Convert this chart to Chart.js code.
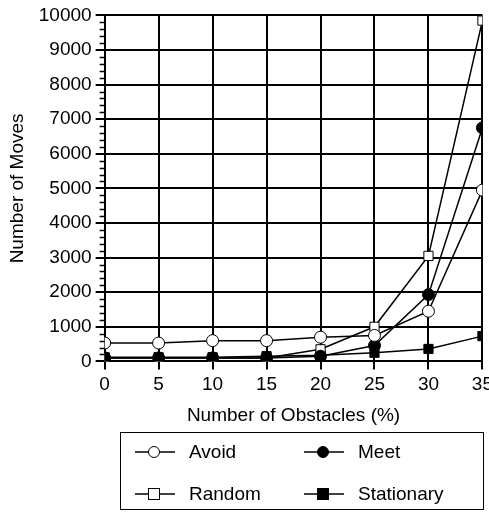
<!DOCTYPE html>
<html>
<head>
<meta charset="utf-8">
<script src="https://cdn.jsdelivr.net/npm/chart.js@4/dist/chart.umd.min.js"></script>
<style>
  html, body { margin: 0; padding: 0; background: #fff; }
  #wrap { position: relative; width: 489px; height: 514px; overflow: hidden; }
  #legend {
    position: absolute; left: 120px; top: 432px; width: 364px; height: 78px;
    border: 1.5px solid #000; box-sizing: border-box;
    font-family: "Liberation Sans", Arial, sans-serif; font-size: 19px; color: #000;
  }
  .item { position: absolute; display: flex; align-items: center; }
  .item svg { margin-right: 14px; }
</style>
</head>
<body>
<div id="wrap">
  <canvas id="chart" width="497" height="514"></canvas>
  <div id="legend"></div>
</div>
<script>
// obstacle percentages on the x axis
const obstacles = [0, 5, 10, 15, 20, 25, 30, 35];

// number of moves per strategy
const avoid      = [530, 530, 600, 600, 700, 750, 1450, 4950];
const meet       = [100, 100, 100, 100, 150, 460, 1930, 6750];
const random     = [100, 100, 100, 100, 350, 1000, 3050, 9850];
const stationary = [120, 120, 120, 150, 180, 250, 360, 730];

const xTicks = [0, 5, 10, 15, 20, 25, 30, 35];
const yTicks = [0, 1000, 2000, 3000, 4000, 5000, 6000, 7000, 8000, 9000, 10000];

const FONT = '"Liberation Sans", Arial, sans-serif';

const toPoints = vals => vals.map((v, i) => ({ x: obstacles[i], y: v }));

const series = [
  { label: 'Avoid',      data: avoid,      style: 'circle', fill: '#fff' },
  { label: 'Meet',       data: meet,       style: 'circle', fill: '#000' },
  { label: 'Random',     data: random,     style: 'rect',   fill: '#fff' },
  { label: 'Stationary', data: stationary, style: 'rect',   fill: '#000' }
];

// short minor ticks on the y axis every 200
const minorTicks = {
  id: 'minorTicks',
  afterDraw(chart) {
    const y = chart.scales.y, ctx = chart.ctx;
    const left = chart.chartArea.left;
    ctx.save();
    ctx.strokeStyle = '#000';
    ctx.lineWidth = 1.5;
    for (let v = 0; v <= 10000; v += 200) {
      if (v % 1000 === 0) continue;
      const py = Math.round(y.getPixelForValue(v)) + 0.5;
      ctx.beginPath();
      ctx.moveTo(left - 5, py);
      ctx.lineTo(left, py);
      ctx.stroke();
    }
    ctx.restore();
  }
};

const chart = new Chart(document.getElementById('chart'), {
  type: 'line',
  data: {
    datasets: series.map(s => ({
      label: s.label,
      data: toPoints(s.data),
      borderColor: '#000',
      borderWidth: 1.5,
      pointStyle: s.style,
      pointRadius: s.style === 'circle' ? 6 : 6.5,
      pointBackgroundColor: s.fill,
      pointBorderColor: '#000',
      pointBorderWidth: 1,
      tension: 0
    }))
  },
  options: {
    responsive: false,
    animation: false,
    layout: { padding: { top: 9, right: 0, left: 2, bottom: 83 } },
    plugins: { legend: { display: false }, tooltip: { enabled: false } },
    scales: {
      x: {
        type: 'linear', min: 0, max: 35,
        afterBuildTicks: s => { s.ticks = xTicks.map(v => ({ value: v })); },
        grid: { color: '#000', lineWidth: 2, tickLength: 8 },
        border: { color: '#000', width: 2 },
        ticks: { color: '#000', font: { family: FONT, size: 19 }, padding: 4, maxRotation: 0 },
        title: { display: true, text: 'Number of Obstacles (%)', color: '#000', font: { family: FONT, size: 19 }, padding: { top: 4 } }
      },
      y: {
        min: 0, max: 10000,
        afterBuildTicks: s => { s.ticks = yTicks.map(v => ({ value: v })); },
        grid: { color: '#000', lineWidth: 2, tickLength: 9 },
        border: { color: '#000', width: 2 },
        ticks: { color: '#000', font: { family: FONT, size: 19 }, padding: 4, callback: v => String(v) },
        title: { display: true, text: 'Number of Moves', color: '#000', font: { family: FONT, size: 19 }, padding: { bottom: 6 } }
      }
    }
  },
  plugins: [minorTicks]
});

// boxed legend in two columns, icons drawn like the plot markers
const legend = document.getElementById('legend');
const spots = [[14, 8], [183, 8], [14, 50], [183, 50]];
series.forEach((s, i) => {
  const el = document.createElement('div');
  el.className = 'item';
  el.style.left = spots[i][0] + 'px';
  el.style.top = spots[i][1] + 'px';
  const mark = s.style === 'circle'
    ? `<circle cx="19" cy="10" r="5.5" fill="${s.fill}" stroke="#000" stroke-width="1"/>`
    : `<rect x="13.5" y="4.5" width="11" height="11" fill="${s.fill}" stroke="#000" stroke-width="1"/>`;
  el.innerHTML = `<svg width="40" height="20"><line x1="0" y1="10" x2="40" y2="10" stroke="#000" stroke-width="1.5"/>${mark}</svg><span>${s.label}</span>`;
  legend.appendChild(el);
});
</script>
</body>
</html>
